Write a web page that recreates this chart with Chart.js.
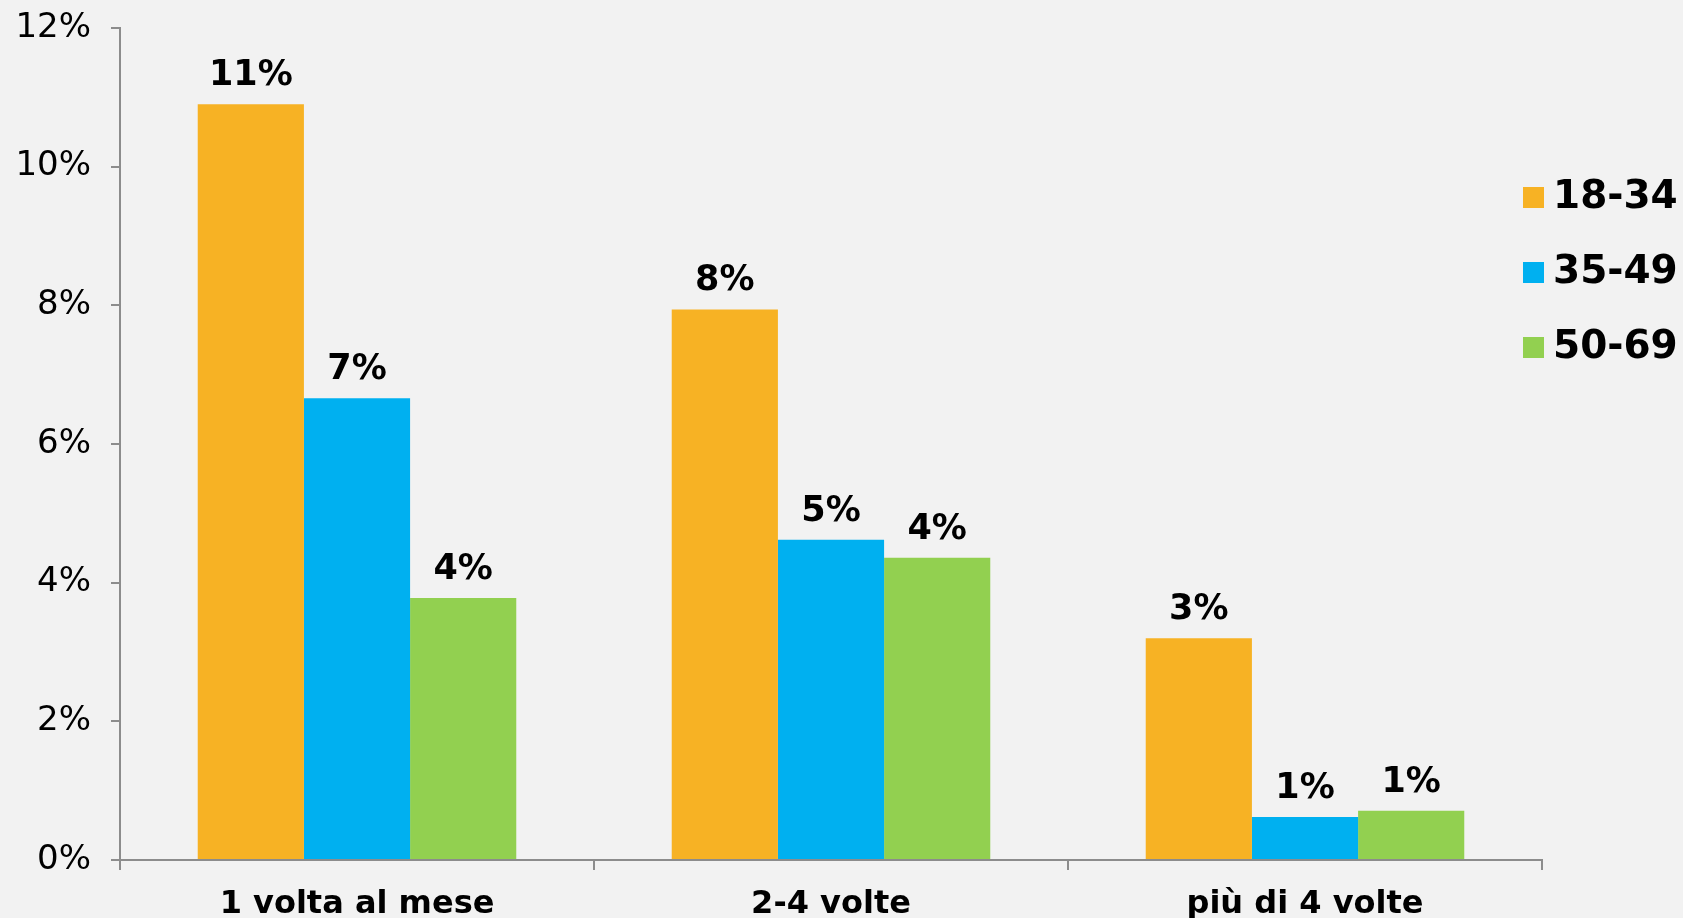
<!DOCTYPE html>
<html>
<head>
<meta charset="utf-8">
<script src="https://cdn.jsdelivr.net/npm/chart.js@4/dist/chart.umd.min.js"></script>
<style>
  html, body { margin: 0; padding: 0; background: #f2f2f2; }
  #wrap { width: 1683px; height: 918px; }
</style>
</head>
<body>
<div id="wrap"><canvas id="c" width="1683" height="918"></canvas></div>
<script>
const categories = ['1 volta al mese', '2-4 volte', 'più di 4 volte'];
const seriesNames = ['18-34', '35-49', '50-69'];
const s1834 = [10.9, 7.94, 3.2];
const s3549 = [6.66, 4.62, 0.62];
const s5069 = [3.78, 4.36, 0.71];
const yTicks = [0, 2, 4, 6, 8, 10, 12];
const colors = ['#F7B224', '#00B0F0', '#92D050'];

const FONT = '"DejaVu Sans", Verdana, sans-serif';
const AXIS = '#8c8c8c';

const dataLabels = {
  id: 'dataLabels',
  afterDatasetsDraw(chart) {
    const ctx = chart.ctx;
    ctx.save();
    ctx.font = 'bold 35px ' + FONT;
    ctx.fillStyle = '#000';
    ctx.textAlign = 'center';
    ctx.textBaseline = 'alphabetic';
    chart.data.datasets.forEach((ds, i) => {
      chart.getDatasetMeta(i).data.forEach((bar, j) => {
        ctx.fillText(Math.round(ds.data[j]) + '%', bar.x, bar.y - 19);
      });
    });
    ctx.restore();
  }
};

const customLegend = {
  id: 'customLegend',
  afterDraw(chart) {
    const ctx = chart.ctx;
    ctx.save();
    ctx.font = 'bold 39px ' + FONT;
    ctx.textBaseline = 'middle';
    ctx.textAlign = 'left';
    chart.data.datasets.forEach((ds, i) => {
      const cy = 197 + i * 75;
      ctx.fillStyle = ds.backgroundColor;
      ctx.fillRect(1523, cy - 10, 21, 21);
      ctx.fillStyle = '#000';
      ctx.fillText(ds.label, 1553, cy + 1);
    });
    ctx.restore();
  }
};

new Chart(document.getElementById('c'), {
  type: 'bar',
  data: {
    labels: categories,
    datasets: [
      { label: seriesNames[0], data: s1834, backgroundColor: colors[0] },
      { label: seriesNames[1], data: s3549, backgroundColor: colors[1] },
      { label: seriesNames[2], data: s5069, backgroundColor: colors[2] }
    ]
  },
  options: {
    responsive: false,
    animation: false,
    devicePixelRatio: 1,
    layout: { autoPadding: false, padding: { top: 28, right: 141, left: 0, bottom: 0 } },
    datasets: { bar: { categoryPercentage: 0.672, barPercentage: 1.0 } },
    plugins: { legend: { display: false }, tooltip: { enabled: false } },
    scales: {
      x: {
        grid: { drawOnChartArea: false, drawTicks: true, tickLength: 10, color: AXIS, lineWidth: 2, offset: true },
        border: { display: true, color: AXIS, width: 2 },
        ticks: { color: '#000', font: { family: FONT, size: 32, weight: 'bold' }, padding: 15, maxRotation: 0 },
        afterFit(scale) { scale.height = 58; scale.paddingLeft = 0; scale.paddingRight = 0; }
      },
      y: {
        min: 0, max: 12,
        afterBuildTicks(scale) { scale.ticks = yTicks.map(v => ({ value: v })); },
        grid: { drawOnChartArea: false, drawTicks: true, tickLength: 9, color: AXIS, lineWidth: 2 },
        border: { display: true, color: AXIS, width: 2 },
        ticks: { color: '#000', font: { family: FONT, size: 34 }, padding: 20, callback: v => v + '%' },
        afterFit(scale) { scale.width = 120; scale.paddingTop = 0; scale.paddingBottom = 0; }
      }
    }
  },
  plugins: [dataLabels, customLegend]
});
</script>
</body>
</html>
